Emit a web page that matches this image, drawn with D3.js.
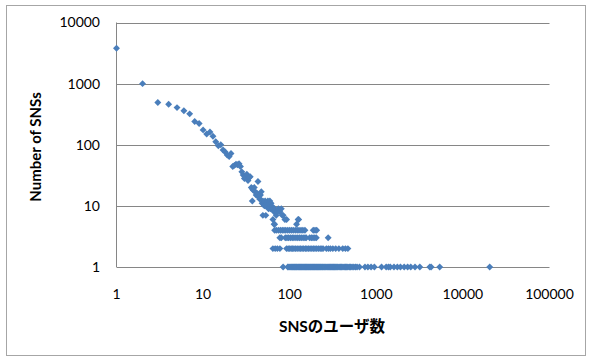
<!DOCTYPE html>
<html>
<head>
<meta charset="utf-8">
<script src="https://cdn.jsdelivr.net/npm/d3@7"></script>
<style>
  body { margin: 0; background: #fff; }
  text { font-family: Lato, "Noto Sans CJK JP", sans-serif; fill: #000; }
</style>
</head>
<body>
<div id="chart"></div>
<script>
// SNS user count (x) vs number of SNSs having that count (y)
var headUsers  = [1, 2, 3, 4, 5, 6, 7, 8, 9, 10, 11, 12, 13, 14, 15, 16, 17, 18, 19, 20,
                  21, 22, 23, 24, 25, 26, 27, 28, 29, 30, 31, 32, 33, 34, 35, 36, 37, 38, 39, 40,
                  41, 42, 43, 44, 45, 46, 47, 48, 49, 50, 51, 52, 53, 54, 55, 56, 57, 58, 59, 60,
                  61, 62, 63, 64, 66, 67, 69, 70, 72, 74, 77, 80, 82, 84, 88, 92, 125];
var headCounts = [3800, 1000, 490, 460, 405, 360, 320, 240, 222, 175, 150, 162, 138, 112, 96, 100, 82, 76, 68, 64,
                  72, 44, 46, 48, 47, 49, 44, 36, 32, 28, 30, 33, 26, 29, 30, 20, 19, 18, 20, 17,
                  15, 16, 25, 14, 13, 15, 17, 11, 12, 11, 10, 12, 10, 10, 11, 12, 9, 11, 12, 9,
                  11, 10, 9, 9, 8, 9, 8, 7, 8, 9, 8, 9, 7, 7, 6, 6, 6];
var lowUsers  = [37, 49, 53, 64, 66, 67, 120, 127];
var lowCounts = [12, 7, 7, 6, 5, 5, 5, 6];

var users4 = [67, 70, 74, 78, 82, 86, 90, 95, 100, 105, 110, 116, 122, 128, 135, 142, 150, 187, 196, 205];
var users3 = [77, 80, 89, 93, 97, 102, 107, 112, 118, 124, 130, 136, 143, 150, 155, 170, 178, 186, 195, 203, 278];
var users2 = [64, 68, 72, 77, 92, 96, 100, 104, 108, 112, 117, 122, 128, 133, 139, 145, 152, 158, 165, 172,
              180, 188, 196, 205, 215, 225, 235, 243, 265, 280, 295, 315, 340, 370, 410, 440, 470];
var users1 = [84, 95, 98, 101, 104, 107, 110, 113, 116, 119, 122, 126, 130, 133, 137, 141, 145, 149, 152, 156,
              160, 165, 170, 174, 178, 183, 188, 193, 198, 204, 210, 216, 222, 228, 235, 241, 248, 255, 262, 270,
              278, 286, 294, 302, 311, 320, 330, 340, 350, 360, 372, 385, 398, 412, 426, 440, 455, 470, 488, 505,
              525, 550, 575, 600, 640, 740, 800, 870, 950, 1150, 1300, 1380, 1450, 1600, 1750, 1900, 2100, 2300,
              2500, 2800, 3180, 4150, 4300, 5400, 20400];

var xTicks = [1, 10, 100, 1000, 10000, 100000];
var yTicks = [1, 10, 100, 1000, 10000];

var points = [];
headUsers.forEach(function(u, i) { points.push({x: u, y: headCounts[i]}); });
lowUsers.forEach(function(u, i) { points.push({x: u, y: lowCounts[i]}); });
users4.forEach(function(u) { points.push({x: u, y: 4}); });
users3.forEach(function(u) { points.push({x: u, y: 3}); });
users2.forEach(function(u) { points.push({x: u, y: 2}); });
users1.forEach(function(u) { points.push({x: u, y: 1}); });

var width = 589, height = 358;
var margin = {top: 22.5, right: 39.5, bottom: 91, left: 116.5};

var svg = d3.select("#chart").append("svg")
    .attr("width", width)
    .attr("height", height);

// chart area border
svg.append("rect")
    .attr("x", 6.5).attr("y", 5.5)
    .attr("width", 579).attr("height", 350)
    .attr("fill", "#fff")
    .attr("stroke", "#a6a6a6")
    .attr("stroke-width", 1);

var xScale = d3.scaleLog()
    .domain([1, 100000])
    .range([margin.left, width - margin.right]);

var yScale = d3.scaleLog()
    .domain([1, 10000])
    .range([height - margin.bottom, margin.top]);

//horizontal gridlines
svg.append("g").selectAll("line").data(yTicks).enter().append("line")
    .attr("x1", margin.left)
    .attr("x2", width - margin.right)
    .attr("y1", function(d) { return Math.round(yScale(d)) + 0.5; })
    .attr("y2", function(d) { return Math.round(yScale(d)) + 0.5; })
    .attr("stroke", "#868686")
    .attr("stroke-width", 1);

//left axis line
svg.append("line")
    .attr("x1", margin.left).attr("x2", margin.left)
    .attr("y1", yScale(10000)).attr("y2", yScale(1))
    .attr("stroke", "#868686");

//tick labels
svg.append("g").selectAll("text").data(yTicks).enter().append("text")
    .attr("x", 100)
    .attr("y", function(d) { return yScale(d); })
    .attr("dy", "0.35em")
    .attr("text-anchor", "end")
    .style("font-size", "14px")
    .text(function(d) { return d; });

svg.append("g").selectAll("text").data(xTicks).enter().append("text")
    .attr("x", function(d) { return xScale(d); })
    .attr("y", 294)
    .attr("dy", "0.35em")
    .attr("text-anchor", "middle")
    .style("font-size", "14px")
    .text(function(d) { return d; });

//axis titles
svg.append("text")
    .attr("transform", "translate(36,147) rotate(-90)")
    .attr("text-anchor", "middle")
    .attr("dy", "0.35em")
    .style("font-size", "15px")
    .style("font-weight", "bold")
    .text("Number of SNSs");

svg.append("text")
    .attr("x", 332)
    .attr("y", 327)
    .attr("dy", "0.35em")
    .attr("text-anchor", "middle")
    .style("font-size", "15.5px")
    .style("font-weight", "bold")
    .text("SNSのユーザ数");

//diamond markers
var diamond = d3.symbol().type(d3.symbolSquare).size(24);
svg.append("g").selectAll("path").data(points).enter().append("path")
    .attr("d", diamond)
    .attr("transform", function(d) {
        return "translate(" + xScale(d.x) + "," + yScale(d.y) + ") rotate(45)";
    })
    .attr("fill", "#4A7EBB");
</script>
</body>
</html>
